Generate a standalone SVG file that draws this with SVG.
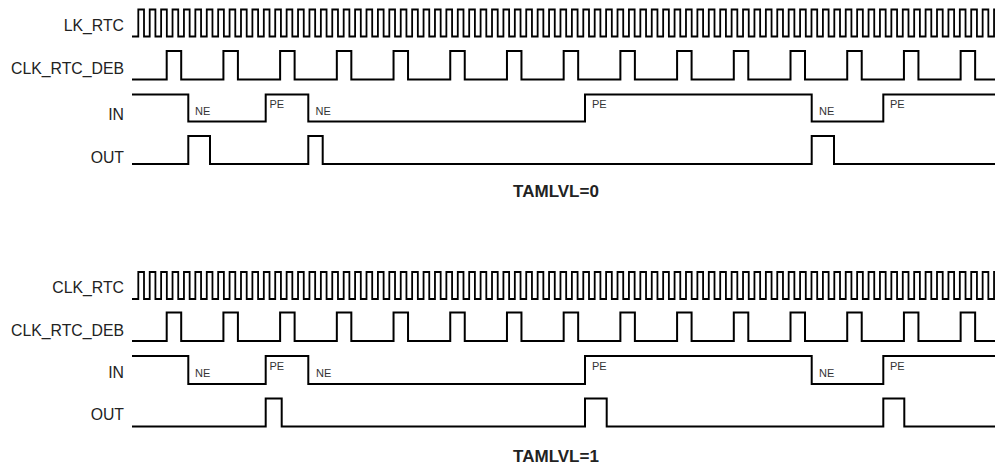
<svg xmlns="http://www.w3.org/2000/svg" width="995" height="467" viewBox="0 0 995 467">
<style>
.w{fill:none;stroke:#000;stroke-width:2;stroke-linejoin:miter;stroke-linecap:butt}
.c{fill:none;stroke:#000;stroke-width:1.8}
.lbl{font-family:"Liberation Sans",Arial,sans-serif;font-size:15.8px;fill:#222;text-anchor:end}
.e{font-family:"Liberation Sans",Arial,sans-serif;font-size:11px;fill:#333}
.t{font-family:"Liberation Sans",Arial,sans-serif;font-size:17px;font-weight:bold;fill:#222;text-anchor:middle}
</style>
<defs>
<path id="clk" d="M132,36.5H138.3
v-27h5.705v27h5.705 v-27h5.705v27h5.705 v-27h5.705v27h5.705 v-27h5.705v27h5.705 v-27h5.705v27h5.705
v-27h5.705v27h5.705 v-27h5.705v27h5.705 v-27h5.705v27h5.705 v-27h5.705v27h5.705 v-27h5.705v27h5.705
v-27h5.705v27h5.705 v-27h5.705v27h5.705 v-27h5.705v27h5.705 v-27h5.705v27h5.705 v-27h5.705v27h5.705
v-27h5.705v27h5.705 v-27h5.705v27h5.705 v-27h5.705v27h5.705 v-27h5.705v27h5.705 v-27h5.705v27h5.705
v-27h5.705v27h5.705 v-27h5.705v27h5.705 v-27h5.705v27h5.705 v-27h5.705v27h5.705 v-27h5.705v27h5.705
v-27h5.705v27h5.705 v-27h5.705v27h5.705 v-27h5.705v27h5.705 v-27h5.705v27h5.705 v-27h5.705v27h5.705
v-27h5.705v27h5.705 v-27h5.705v27h5.705 v-27h5.705v27h5.705 v-27h5.705v27h5.705 v-27h5.705v27h5.705
v-27h5.705v27h5.705 v-27h5.705v27h5.705 v-27h5.705v27h5.705 v-27h5.705v27h5.705 v-27h5.705v27h5.705
v-27h5.705v27h5.705 v-27h5.705v27h5.705 v-27h5.705v27h5.705 v-27h5.705v27h5.705 v-27h5.705v27h5.705
v-27h5.705v27h5.705 v-27h5.705v27h5.705 v-27h5.705v27h5.705 v-27h5.705v27h5.705 v-27h5.705v27h5.705
v-27h5.705v27h5.705 v-27h5.705v27h5.705 v-27h5.705v27h5.705 v-27h5.705v27h5.705 v-27h5.705v27h5.705
v-27h5.705v27h5.705 v-27h5.705v27h5.705 v-27h5.705v27h5.705 v-27h5.705v27h5.705 v-27h5.705v27h5.705
v-27h5.705v27h5.705 v-27h5.705v27h5.705 v-27h5.705v27h5.705 v-27h5.705v27h5.705 v-27h5.705v27h5.705
v-27h5.705v27h5.705 v-27h5.705v27h5.705 v-27h5.705v27h5.705 v-27h5.705v27h5.705 v-27h5.705v27h5.705
v-27h5.705v27h5.705 v-27h5.705v27h5.705 v-27h5.705v27h5.705 v-27h5.705v27h5.705 v-27h5.705v27h5.705
v-27H995"/>
<path id="deb" d="M132,79.5H166.7v-28.5h14.5v28.5h42.21v-28.5h14.5v28.5h42.21v-28.5h14.5v28.5h42.21v-28.5h14.5v28.5h42.21v-28.5h14.5v28.5h42.21v-28.5h14.5v28.5h42.21v-28.5h14.5v28.5h42.21v-28.5h14.5v28.5h42.21v-28.5h14.5v28.5h42.21v-28.5h14.5v28.5h42.21v-28.5h14.5v28.5h42.21v-28.5h14.5v28.5h42.21v-28.5h14.5v28.5h42.21v-28.5h14.5v28.5h42.21v-28.5h14.5v28.5H995"/>
</defs>

<g id="panel-tamlvl0">
  <g id="clk-rtc-0">
    <text class="lbl" x="124" y="30.5">LK_RTC</text>
    <use href="#clk" class="c"/>
  </g>
  <g id="clk-rtc-deb-0">
    <text class="lbl" x="124" y="74">CLK_RTC_DEB</text>
    <use href="#deb" class="w"/>
  </g>
  <g id="in-0">
    <text class="lbl" x="124" y="120">IN</text>
    <path class="w" d="M132,94.5H188.3V121.5H265.7V94.5H308.3V121.5H585V94.5H811.7V121.5H883.3V94.5H995"/>
    <text class="e" x="195" y="114.5">NE</text>
    <text class="e" x="269.5" y="108">PE</text>
    <text class="e" x="315.5" y="114.5">NE</text>
    <text class="e" x="592" y="108">PE</text>
    <text class="e" x="819" y="114.5">NE</text>
    <text class="e" x="890" y="108">PE</text>
  </g>
  <g id="out-0">
    <text class="lbl" x="124" y="162.5">OUT</text>
    <path class="w" d="M132,164H188.3V136H210V164H308.3V136H322.7V164H811.7V136H834V164H995"/>
  </g>
  <text id="title-0" class="t" x="556" y="197">TAMLVL=0</text>
</g>

<g id="panel-tamlvl1">
  <g id="clk-rtc-1">
    <text class="lbl" x="124" y="292.5">CLK_RTC</text>
    <use href="#clk" class="c" transform="translate(0,262.5)"/>
  </g>
  <g id="clk-rtc-deb-1">
    <text class="lbl" x="124" y="336">CLK_RTC_DEB</text>
    <use href="#deb" class="w" transform="translate(0,261.5)"/>
  </g>
  <g id="in-1">
    <text class="lbl" x="124" y="378">IN</text>
    <path class="w" d="M132,356H188.3V384H265.7V356H308.3V384H585V356H811.7V384H883.3V356H995"/>
    <text class="e" x="195" y="377">NE</text>
    <text class="e" x="269.5" y="370">PE</text>
    <text class="e" x="316" y="377">NE</text>
    <text class="e" x="592" y="370">PE</text>
    <text class="e" x="819" y="377">NE</text>
    <text class="e" x="890" y="370">PE</text>
  </g>
  <g id="out-1">
    <text class="lbl" x="124" y="420">OUT</text>
    <path class="w" d="M132,426.5H265.7V398.5H281.7V426.5H585V398.5H606.7V426.5H883.3V398.5H904.3V426.5H995"/>
  </g>
  <text id="title-1" class="t" x="556" y="462">TAMLVL=1</text>
</g>
</svg>
